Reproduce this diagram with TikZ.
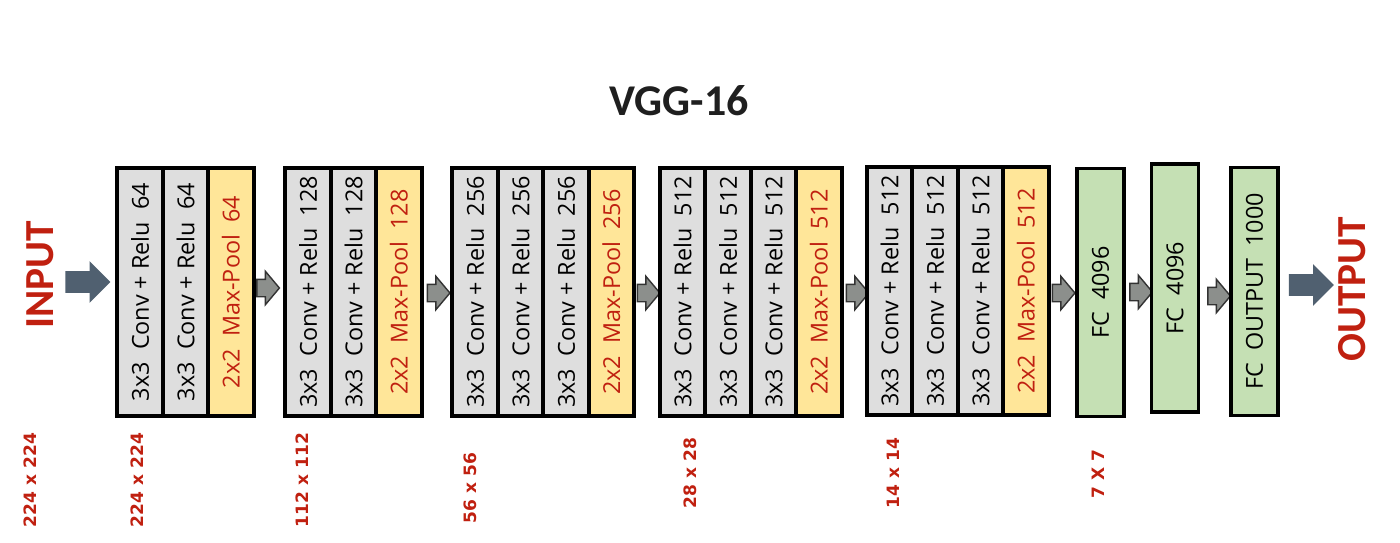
\documentclass[tikz,border=0pt]{standalone}
\usepackage{fontspec}
\usepackage{graphicx}
\setmainfont{Open Sans}
\newfontfamily\titlefont{Carlito}
\newfontfamily\dimfont{DejaVu Sans}
\usetikzlibrary{positioning,shapes.arrows}

\definecolor{vggred}{RGB}{192,32,16}
\definecolor{convgray}{RGB}{222,222,222}
\definecolor{poolyellow}{RGB}{255,230,153}
\definecolor{fcgreen}{RGB}{197,224,180}
\definecolor{arrowgray}{RGB}{140,143,140}
\definecolor{slate}{RGB}{80,96,112}

\begin{document}
\begin{tikzpicture}[x=0.02cm, y=-0.02cm,
    layer/.style={draw=black, line width=2.2pt, inner sep=0pt, outer sep=0pt,
        minimum width=0.91cm, minimum height=4.96cm,
        font=\fontsize{13.3}{15}\selectfont},
    conv/.style={layer, fill=convgray},
    pool/.style={layer, fill=poolyellow, text=vggred},
    fc/.style={layer, fill=fcgreen, minimum width=0.94cm},
    dim/.style={rotate=90, text=vggred, font=\dimfont\bfseries\fontsize{9.7}{12}\selectfont},
    io/.style={rotate=90, text=vggred, font=\titlefont\bfseries\fontsize{23.5}{26}\selectfont},
    flowarrow/.style={single arrow, draw=black!80, fill=arrowgray, line width=0.8pt,
        inner xsep=0pt, inner ysep=0.16cm, minimum height=0.45cm,
        single arrow head extend=0.16cm, single arrow tip angle=100},
    bigarrow/.style={single arrow, fill=slate, inner xsep=0pt, inner ysep=0.21cm,
        minimum height=0.9cm, single arrow head extend=0.2cm}]

    \useasboundingbox (0,0) rectangle (1400,542);

    \node[font=\titlefont\bfseries\fontsize{25}{30}\selectfont, text=black!88] (title) at (679,101) {VGG-16};

    % input
    \node[io] (input) at (40,275) {INPUT};
    \node[bigarrow] (inarrow) at (82.5,282) {};

    % block 1
    \node[conv] (b1c1) at (140,292) {\rotatebox{90}{3x3\ \ Conv + Relu\ \ 64}};
    \node[conv, right=0pt of b1c1] (b1c2) {\rotatebox{90}{3x3\ \ Conv + Relu\ \ 64}};
    \node[pool, right=0pt of b1c2] (b1p) {\rotatebox{90}{2x2\ \ Max-Pool\ \ 64}};
    \node[flowarrow] (a1) at (264.5,288) {};

    % block 2
    \node[conv] (b2c1) at (308,292) {\rotatebox{90}{3x3\ \ Conv + Relu\ \ 128}};
    \node[conv, right=0pt of b2c1] (b2c2) {\rotatebox{90}{3x3\ \ Conv + Relu\ \ 128}};
    \node[pool, right=0pt of b2c2] (b2p) {\rotatebox{90}{2x2\ \ Max-Pool\ \ 128}};
    \node[flowarrow] (a2) at (435,293) {};

    % block 3
    \node[conv] (b3c1) at (475,292) {\rotatebox{90}{3x3\ \ Conv + Relu\ \ 256}};
    \node[conv, right=0pt of b3c1] (b3c2) {\rotatebox{90}{3x3\ \ Conv + Relu\ \ 256}};
    \node[conv, right=0pt of b3c2] (b3c3) {\rotatebox{90}{3x3\ \ Conv + Relu\ \ 256}};
    \node[pool, right=0pt of b3c3] (b3p) {\rotatebox{90}{2x2\ \ Max-Pool\ \ 256}};
    \node[flowarrow] (a3) at (645,293) {};

    % block 4
    \node[conv] (b4c1) at (682.5,292) {\rotatebox{90}{3x3\ \ Conv + Relu\ \ 512}};
    \node[conv, right=0pt of b4c1] (b4c2) {\rotatebox{90}{3x3\ \ Conv + Relu\ \ 512}};
    \node[conv, right=0pt of b4c2] (b4c3) {\rotatebox{90}{3x3\ \ Conv + Relu\ \ 512}};
    \node[pool, right=0pt of b4c3] (b4p) {\rotatebox{90}{2x2\ \ Max-Pool\ \ 512}};
    \node[flowarrow] (a4) at (854,293) {};

    % block 5
    \node[conv] (b5c1) at (889.5,291) {\rotatebox{90}{3x3\ \ Conv + Relu\ \ 512}};
    \node[conv, right=0pt of b5c1] (b5c2) {\rotatebox{90}{3x3\ \ Conv + Relu\ \ 512}};
    \node[conv, right=0pt of b5c2] (b5c3) {\rotatebox{90}{3x3\ \ Conv + Relu\ \ 512}};
    \node[pool, right=0pt of b5c3] (b5p) {\rotatebox{90}{2x2\ \ Max-Pool\ \ 512}};
    \node[flowarrow] (a5) at (1060,293) {};

    % fully connected
    \node[fc] (fc1) at (1100.5,292.5) {\rotatebox{90}{FC\ \ 4096}};
    \node[flowarrow] (a6) at (1137.5,292) {};
    \node[fc] (fc2) at (1175,288) {\rotatebox{90}{FC\ \ 4096}};
    \node[flowarrow] (a7) at (1215.5,296) {};
    \node[fc] (fc3) at (1254.5,291.5) {\rotatebox{90}{FC\ \ OUTPUT\ \ 1000}};

    % output
    \node[bigarrow] (outarrow) at (1306,285) {};
    \node[io] (output) at (1352,289) {OUTPUT};

    % feature map sizes
    \node[dim] (d0) at (30,480) {224 x 224};
    \node[dim] (d1) at (137,480) {224 x 224};
    \node[dim] (d2) at (302,480) {112 x 112};
    \node[dim] (d3) at (470,488) {56 x 56};
    \node[dim] (d4) at (690,473) {28 x 28};
    \node[dim] (d5) at (893,473) {14 x 14};
    \node[dim] (d6) at (1098,474) {7 X 7};
\end{tikzpicture}
\end{document}
